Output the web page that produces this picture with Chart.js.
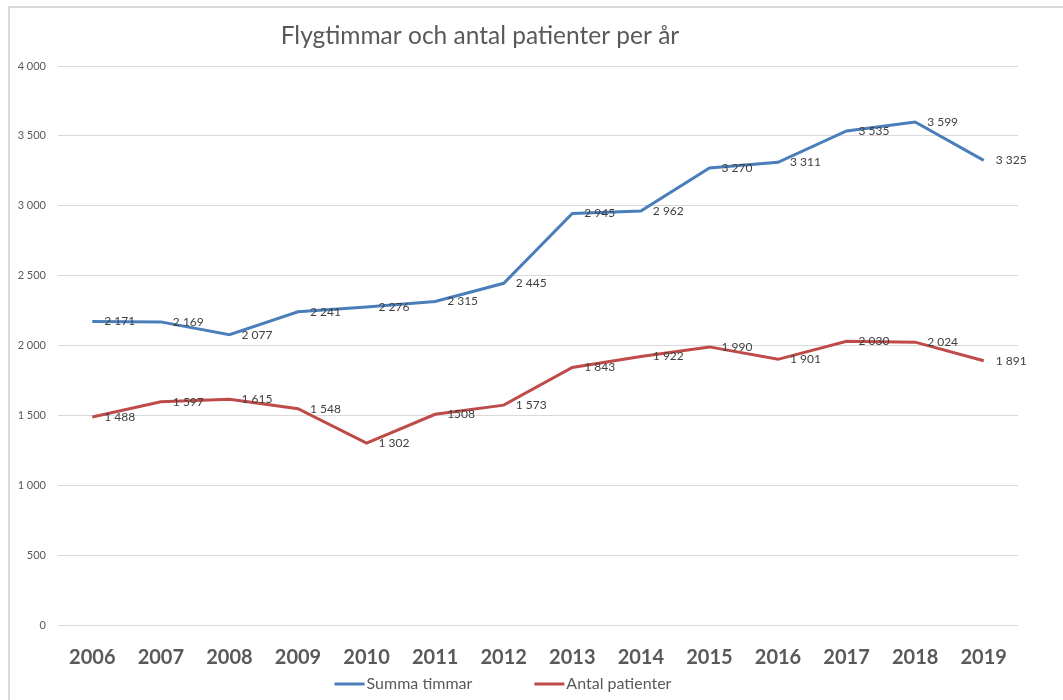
<!DOCTYPE html>
<html lang="sv">
<head>
  <meta charset="UTF-8" />
  <title>Flygtimmar och antal patienter per år</title>
  <script src="https://cdn.jsdelivr.net/npm/chart.js"></script>
  <style>
    body {
      margin: 0;
      background: #ffffff;
      overflow: hidden;
    }

    .wrap {
      position: relative;
      width: 1063px;
      height: 700px;
    }

    .frame {
      position: absolute;
      left: 8px;
      top: 6px;
      right: -10px;
      bottom: -10px;
      border-top: 2px solid #dadada;
      border-left: 2px solid #dadada;
      pointer-events: none;
    }
  </style>
</head>
<body>
  <div class="wrap">
    <canvas id="chart"></canvas>
    <div class="frame"></div>
  </div>

  <script>
    const years = ["2006", "2007", "2008", "2009", "2010", "2011", "2012",
                   "2013", "2014", "2015", "2016", "2017", "2018", "2019"];
    const summaTimmar = [2171, 2169, 2077, 2241, 2276, 2315, 2445,
                         2945, 2962, 3270, 3311, 3535, 3599, 3325];
    const antalPatienter = [1488, 1597, 1615, 1548, 1302, 1508, 1573,
                            1843, 1922, 1990, 1901, 2030, 2024, 1891];
    // i originalet saknar etiketten för 2011 mellanslaget ("1508")
    const patienterUtanMellanslag = [5];

    const titel = "Flygtimmar och antal patienter per år";
    const font = "Lato, 'Open Sans', sans-serif";
    const gra = "#595959";

    function fmt(v) {
      return String(v).replace(/\B(?=(\d{3})+(?!\d))/g, " ");
    }

    // titel + förklaring ritas själva (Excel-placering)
    const titlePlugin = {
      id: "excelTitle",
      afterDraw(chart) {
        const ctx = chart.ctx;
        ctx.save();
        ctx.font = "24.5px " + font;
        ctx.fillStyle = gra;
        ctx.textAlign = "center";
        ctx.textBaseline = "middle";
        ctx.fillText(titel, 480, 36);

        // förklaring
        ctx.font = "16px " + font;
        ctx.textAlign = "left";
        const lineW = 30, gap = 2, between = 62;
        const items = chart.data.datasets.map(ds => ({
          text: ds.label, color: ds.borderColor, w: ctx.measureText(ds.label).width
        }));
        let total = 0;
        items.forEach((it, i) => { total += lineW + gap + it.w + (i ? between : 0); });
        let x = 503 - total / 2;
        const y = 684;
        items.forEach(it => {
          ctx.strokeStyle = it.color;
          ctx.lineWidth = 3;
          ctx.beginPath();
          ctx.moveTo(x, y);
          ctx.lineTo(x + lineW, y);
          ctx.stroke();
          ctx.fillStyle = gra;
          ctx.fillText(it.text, x + lineW + gap, y);
          x += lineW + gap + it.w + between;
        });
        ctx.restore();
      }
    };

    const dataLabels = {
      id: "dataLabels",
      afterDatasetsDraw(chart) {
        const ctx = chart.ctx;
        ctx.save();
        ctx.font = "12px " + font;
        ctx.fillStyle = "#404040";
        ctx.textAlign = "left";
        ctx.textBaseline = "middle";
        chart.data.datasets.forEach((ds, di) => {
          const meta = chart.getDatasetMeta(di);
          meta.data.forEach((pt, i) => {
            let txt = fmt(ds.data[i]);
            if (di === 1 && patienterUtanMellanslag.includes(i)) txt = String(ds.data[i]);
            ctx.fillText(txt, pt.x + 12, pt.y);
          });
        });
        ctx.restore();
      }
    };

    new Chart(document.getElementById("chart"), {
      type: "line",
      data: {
        labels: years,
        datasets: [
          {
            label: "Summa timmar",
            data: summaTimmar,
            borderColor: "#4A7EBB",
            backgroundColor: "#4A7EBB",
            borderWidth: 3,
            pointRadius: 0,
            tension: 0
          },
          {
            label: "Antal patienter",
            data: antalPatienter,
            borderColor: "#BE4B48",
            backgroundColor: "#BE4B48",
            borderWidth: 3,
            pointRadius: 0,
            tension: 0
          }
        ]
      },
      options: {
        responsive: true,
        maintainAspectRatio: false,
        animation: false,
        layout: { padding: { top: 66, right: 45, bottom: 30, left: 0 } },
        plugins: {
          legend: { display: false },
          title: { display: false },
          tooltip: { enabled: false }
        },
        scales: {
          x: {
            offset: true,
            grid: { display: false },
            border: { display: false },
            ticks: {
              color: gra,
              font: { family: font, size: 20, weight: "bold" },
              padding: 13,
              maxRotation: 0
            },
            afterFit(scale) { scale.height = 45; }
          },
          y: {
            min: 0,
            max: 4000,
            grid: { color: "#d9d9d9", drawTicks: false },
            border: { display: false },
            ticks: {
              stepSize: 500,
              color: gra,
              font: { family: font, size: 11 },
              padding: 12,
              callback: v => fmt(v)
            },
            afterFit(scale) { scale.width = 58; }
          }
        }
      },
      plugins: [titlePlugin, dataLabels]
    });
  </script>
</body>
</html>
